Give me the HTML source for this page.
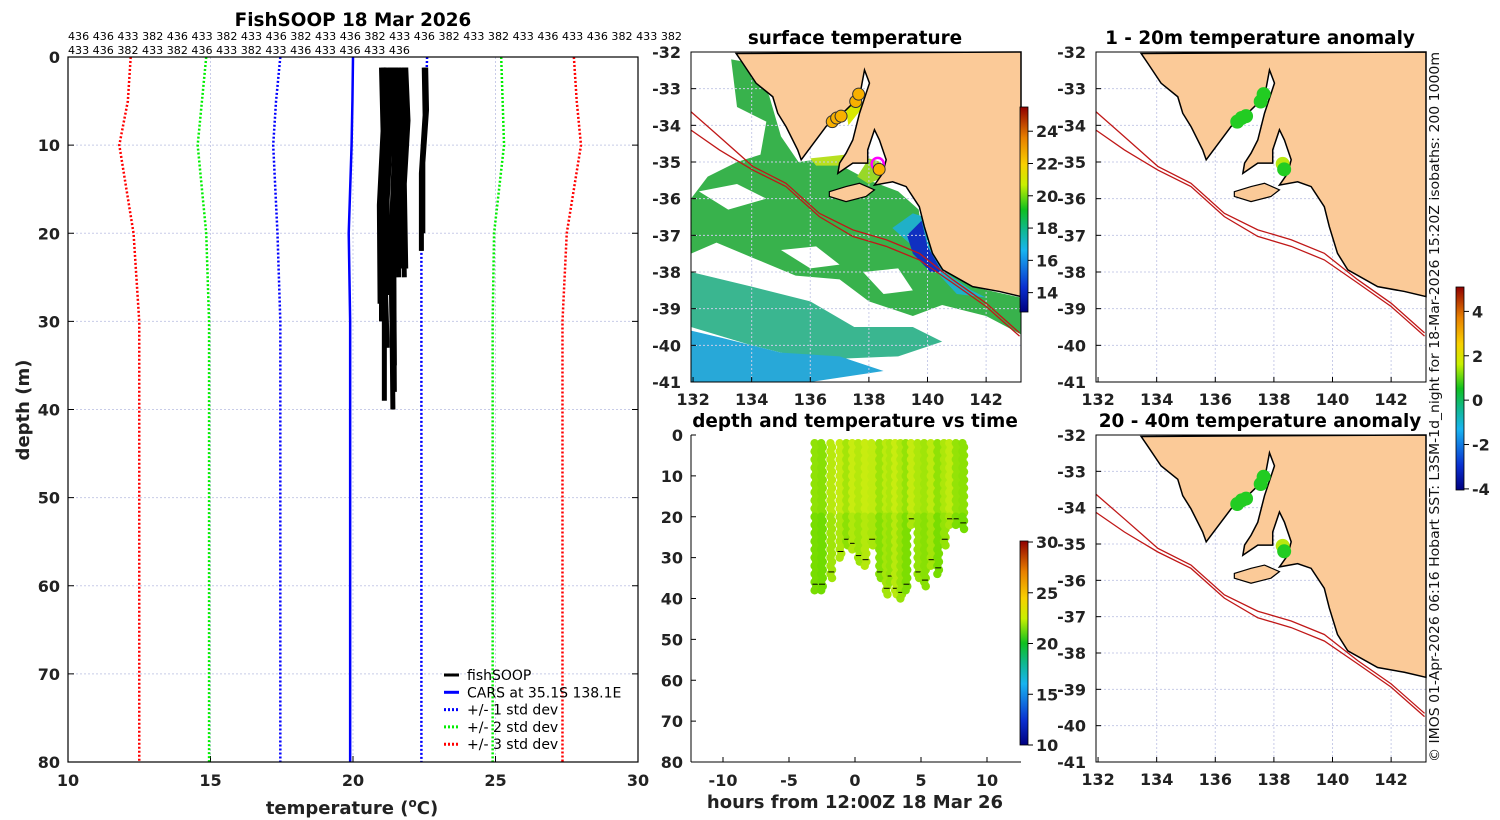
<!DOCTYPE html>
<html><head><meta charset="utf-8"><style>
html,body{margin:0;padding:0;background:#fff;}
svg{display:block;font-family:"DejaVu Sans","Liberation Sans",sans-serif;}
.tk{font-size:16px;font-weight:bold;fill:#222;}
.ttl{font-size:18.4px;font-weight:bold;fill:#000;}
.axt{font-size:18px;font-weight:bold;fill:#222;}
.lg{font-size:14px;fill:#000;}
</style></head><body>
<svg id="fig" width="1500" height="820" viewBox="0 0 1500 820" xmlns="http://www.w3.org/2000/svg">
<defs>
<linearGradient id="jet" x1="0" y1="1" x2="0" y2="0">
<stop offset="0" stop-color="#00007f"/><stop offset="0.12" stop-color="#0a2fd0"/><stop offset="0.3" stop-color="#18b4f0"/><stop offset="0.4" stop-color="#10b890"/><stop offset="0.5" stop-color="#10c020"/><stop offset="0.62" stop-color="#c8f000"/><stop offset="0.72" stop-color="#f8d000"/><stop offset="0.85" stop-color="#e88000"/><stop offset="1" stop-color="#900000"/>
</linearGradient>
</defs>
<g id="left"></g>
<g id="m1"></g>
<g id="m2"></g>
<g id="m3"></g>
<g id="tp"></g>
<text x="353" y="26" text-anchor="middle" class="ttl">FishSOOP 18 Mar 2026</text>
<text x="68" y="40" font-size="11" textLength="614" lengthAdjust="spacingAndGlyphs">436 436 433 382 436 433 382 433 436 382 433 436 382 433 436 382 433 382 433 436 433 436 382 433 382</text>
<text x="68" y="54" font-size="11" textLength="342" lengthAdjust="spacingAndGlyphs">433 436 382 433 382 436 433 382 433 436 433 436 433 436</text>
<text x="855" y="44" text-anchor="middle" class="ttl">surface temperature</text>
<text x="855" y="427" text-anchor="middle" class="ttl">depth and temperature vs time</text>
<text x="1260" y="44" text-anchor="middle" class="ttl">1 - 20m temperature anomaly</text>
<text x="1260" y="427" text-anchor="middle" class="ttl">20 - 40m temperature anomaly</text>
<text transform="translate(1439,762) rotate(-90)" font-size="13.5" textLength="710" lengthAdjust="spacingAndGlyphs" fill="#111">© IMOS 01-Apr-2026 06:16 Hobart SST: L3SM-1d_night for 18-Mar-2026 15:20Z isobaths: 200  1000m</text>
</svg>
<script>
const NS='http://www.w3.org/2000/svg';
// ---- profile chart data ----
const stdDepths=[0,5,10,20,30,80];
const carsMean=[20.0,19.98,19.95,19.85,19.9,19.9];
const plus1=[22.6,22.55,22.5,22.4,22.4,22.4];
const minus1=[17.45,17.3,17.2,17.35,17.45,17.45];
const plus2=[25.2,25.25,25.3,24.95,24.9,24.9];
const minus2=[14.85,14.7,14.55,14.85,14.95,14.95];
const plus3=[27.75,27.85,28.0,27.5,27.35,27.35];
const minus3=[12.2,12.1,11.8,12.3,12.5,12.5];
const fishTopT=[21.0,21.1,21.2,21.3,21.4,21.5,21.6,21.7,21.8,21.85,21.05,21.35,21.5,22.5,22.55];
const fishBotT=[20.95,21.0,21.1,21.2,21.4,21.45,21.6,21.7,21.8,21.85,21.2,21.4,21.45,22.4,22.45];
const fishMaxD=[28,30,39,27,40,35,25,24,25,24,33,36,38,22,20];
const tempTicks=[10,15,20,25,30];
const depthTicks=[0,10,20,30,40,50,60,70,80];
// ---- time plot data ----
const castHours=[-3.0,-2.5,-1.8,-1.1,-0.6,-0.15,0.3,0.8,1.3,1.9,2.4,2.7,3.1,3.5,3.9,4.3,4.8,5.3,5.8,6.3,6.8,7.2,7.7,8.2];
const castMaxDepth=[38,38,35,30,27,28,31,32,27,35,39,36,39,40,38,22,35,37,32,34,27,22,22,23];
const castTemp=[20.5,20.3,21.5,21.8,21.0,21.9,21.4,22.0,21.7,20.8,21.6,21.2,22.1,21.3,20.6,21.8,21.2,20.9,21.6,20.5,21.2,21.7,20.6,20.4];
const hourTicks=[-10,-5,0,5,10];
// ---- map data ----
const latTicks=[-32,-33,-34,-35,-36,-37,-38,-39,-40,-41];
const lonTicks=[132,134,136,138,140,142];
const coastLon=[133.47,133.7,134.15,134.72,134.89,135.17,135.57,135.69,136.54,137.22,137.68,137.85,138.02,137.68,137.45,137.22,137.0,136.94,137.45,137.96,137.96,138.19,138.36,138.59,138.47,138.19,138.81,139.27,139.72,139.89,140.17,140.52,141.54,142.45,143.19,143.19];
const coastLat=[-32.04,-32.31,-32.85,-33.22,-33.67,-34.03,-34.67,-34.94,-34.03,-33.58,-33.22,-32.49,-32.85,-33.67,-34.4,-34.76,-35.03,-35.31,-35.03,-35.03,-34.67,-34.12,-34.4,-34.94,-35.31,-35.63,-35.54,-35.67,-36.22,-36.76,-37.49,-37.94,-38.4,-38.53,-38.67,-32.0];
const kiLon=[136.65,137.22,137.68,138.19,137.9,137.22,136.65];
const kiLat=[-35.81,-35.67,-35.58,-35.76,-35.94,-36.08,-35.94];
const iso1Lon=[131.93,132.9,134.04,135.17,136.31,137.45,138.59,139.72,140.86,142.0,143.14];
const iso1Lat=[-33.63,-34.31,-35.12,-35.58,-36.4,-36.85,-37.12,-37.49,-38.21,-38.85,-39.66];
const iso2Lat=[-34.13,-34.67,-35.22,-35.67,-36.49,-37.03,-37.3,-37.67,-38.3,-38.94,-39.75];
const obsLon=[136.75,136.9,137.05,137.55,137.65,138.3,138.35];
const obsLat=[-33.9,-33.8,-33.75,-33.35,-33.15,-35.05,-35.2];
const obsAnom1=[0.2,0.3,0.2,0.4,0.3,1.6,0.5];
const obsAnom2=[0.3,0.3,0.2,0.3,0.3,1.8,0.4];
const sstTicks=[14,16,18,20,22,24];
const anomTicks=[4,2,0,-2,-4];
const ctTicks=[30,25,20,15,10];

function el(p,t,a){const e=document.createElementNS(NS,t);for(const k in a)e.setAttribute(k,a[k]);p.appendChild(e);return e;}
function txt(p,x,y,s,cls,anchor){const e=el(p,'text',{x:x,y:y,'class':cls||'tk','text-anchor':anchor||'middle'});e.textContent=s;return e;}
function jet(v,lo,hi){const f=Math.max(0,Math.min(1,(v-lo)/(hi-lo)));const st=[[0,[0,0,127]],[.12,[10,47,208]],[.3,[24,180,240]],[.4,[16,184,144]],[.5,[16,192,32]],[.62,[200,240,0]],[.72,[248,208,0]],[.85,[232,128,0]],[1,[144,0,0]]];for(let i=1;i<st.length;i++){if(f<=st[i][0]){const a=st[i-1],b=st[i],t=(f-a[0])/(b[0]-a[0]);const c=a[1].map((v,j)=>Math.round(v+(b[1][j]-v)*t));return 'rgb('+c.join(',')+')';}}return 'rgb(144,0,0)';}

// ===== LEFT PROFILE CHART =====
(function(){
const g=document.getElementById('left');
const X0=68,X1=638,Y0=57,Y1=762;
const xs=t=>X0+(t-10)/20*(X1-X0), ys=d=>Y0+d/80*(Y1-Y0);
el(g,'rect',{x:X0,y:Y0,width:X1-X0,height:Y1-Y0,fill:'#fff'});
tempTicks.forEach(t=>{if(t>10&&t<30){const l=el(g,'line',{x1:xs(t),x2:xs(t),y1:Y0,y2:Y1,stroke:'#c8cce8','stroke-dasharray':'2,2'});}
 const lb=txt(g,xs(t),786,t);
 el(g,'line',{x1:xs(t),x2:xs(t),y1:Y1,y2:Y1-6,stroke:'#000'});});
depthTicks.forEach(d=>{if(d>0&&d<80){const l=el(g,'line',{x1:X0,x2:X1,y1:ys(d),y2:ys(d),stroke:'#c8cce8','stroke-dasharray':'2,2'});}
 const lb=txt(g,60,ys(d)+6,d,'tk','end');
 el(g,'line',{x1:X0,x2:X0+6,y1:ys(d),y2:ys(d),stroke:'#000'});el(g,'line',{x1:X1,x2:X1-6,y1:ys(d),y2:ys(d),stroke:'#000'});});
const series=[[minus3,'#f00',1],[plus3,'#f00',1],[minus2,'#0e0',1],[plus2,'#0e0',1],[minus1,'#00f',1],[plus1,'#00f',1],[carsMean,'#00f',0]];
series.forEach((s,i)=>{const pts=s[0].map((t,j)=>xs(t)+','+ys(stdDepths[j])).join(' ');
 const pl=el(g,'polyline',{points:pts,fill:'none',stroke:s[1],'stroke-width':2.5,'stroke-dasharray':s[2]?'2,2':'none'});
 });
fishTopT.forEach((t,i)=>{const m=(t+fishBotT[i])/2;
 const pl=el(g,'polyline',{points:xs(t)+','+ys(1.2)+' '+xs(m+0.08)+','+ys(fishMaxD[i]*0.3)+' '+xs(m-0.05)+','+ys(fishMaxD[i]*0.6)+' '+xs(fishBotT[i])+','+ys(fishMaxD[i]),fill:'none',stroke:'#000','stroke-width':5,'stroke-linejoin':'round'});
 });
el(g,'rect',{x:X0,y:Y0,width:X1-X0,height:Y1-Y0,fill:'none',stroke:'#000','stroke-width':1.2});
const xl=el(g,'text',{x:352,y:814,'class':'axt','text-anchor':'middle'});xl.innerHTML='temperature (<tspan dy="-7" font-size="12">o</tspan><tspan dy="7">C)</tspan>';

const yl=el(g,'text',{transform:'translate(29,410) rotate(-90)','class':'axt','text-anchor':'middle'});yl.textContent='depth (m)';

const items=[['fishSOOP','#000','none'],['CARS at 35.1S 138.1E','#00f','none'],['+/- 1 std dev','#00f','2,2'],['+/- 2 std dev','#0e0','2,2'],['+/- 3 std dev','#f00','2,2']];
items.forEach((it,i)=>{const y=675+i*17.3;const lg=el(g,'g',{});
 el(lg,'line',{x1:444,x2:459,y1:y,y2:y,stroke:it[1],'stroke-width':3,'stroke-dasharray':it[2]});txt(lg,467,y+5,it[0],'lg','start');});
})();

function anomColor(v){return v<1?'#22cc22':'#b8e810';}

// ===== MAPS =====
function drawMap(id,box,kind){
const g=document.getElementById(id);
const L0=131.93,L1=143.19,A0=-32,A1=-41;
const xs=l=>box[0]+(l-L0)/(L1-L0)*(box[1]-box[0]), ys=a=>box[2]+(a-A0)/(A1-A0)*(box[3]-box[2]);
const P=(lo,la)=>lo.map((v,i)=>xs(v)+','+ys(la[i])).join(' ');
el(g,'rect',{x:box[0],y:box[2],width:box[1]-box[0],height:box[3]-box[2],fill:'#fff'});
if(kind==='sst'){
 const patches=[
  [[133.3,134.0,134.6,135.0,135.6,136.5,137.3,138.0,139.0,139.7,139.8,140.4,141.5,143.19,143.19,142,140.5,139.5,138,137,135.5,134,132.8,131.93,131.93,132.5,133.5,134.3,134.5,133.5],[-32.2,-32.3,-33.2,-34.3,-35.0,-34.9,-35.2,-35.5,-35.8,-36.3,-36.9,-37.8,-38.4,-38.7,-39.7,-39.2,-38.9,-39.2,-38.8,-38.2,-38.1,-37.6,-37.2,-37.5,-36.0,-35.4,-35.0,-34.8,-33.9,-33.5],'#38b24c'],
  [[131.93,134,136,137.5,139.5,140.5,139,136,134,131.93],[-38.0,-38.4,-38.8,-39.5,-39.5,-39.9,-40.3,-40.4,-40.0,-39.5],'#3ab690'],
  [[131.93,133,135,137,138.5,136,131.93],[-39.6,-39.8,-40.2,-40.3,-40.7,-41,-41],'#28a8d8'],
  [[139.5,139.9,140.6,141.5,142,141,139.5,138.8],[-36.4,-36.5,-38.0,-38.5,-38.7,-38.6,-37.3,-36.8],'#20b0c8'],
  [[139.3,139.8,140.0,140.5,140.1,139.5],[-37.0,-36.6,-37.3,-38.0,-38.0,-37.5],'#1030c0'],
  [[136.0,137.2,137.0,136.2],[-34.9,-34.8,-35.1,-35.1],'#b8e020'],
  [[138.0,138.4,138.5,138.0,137.6],[-34.9,-35.0,-35.4,-35.6,-35.4],'#98d828'],
  [[137.2,137.6,137.9,137.3],[-33.5,-33.3,-33.4,-34.0],'#d8e800'],
  [[132.2,133.5,134.5,133.2],[-35.8,-35.6,-36.0,-36.3],'#ffffff'],
  [[135.0,136.2,137.0,136.0],[-37.4,-37.3,-37.8,-37.9],'#ffffff'],
  [[137.8,139.0,139.5,138.5],[-38.0,-37.9,-38.5,-38.6],'#ffffff']];
 patches.forEach(p=>{const e=el(g,'polygon',{points:P(p[0],p[1]),fill:p[2]});});
}
lonTicks.forEach(l=>{if(l>132){el(g,'line',{x1:xs(l),x2:xs(l),y1:box[2],y2:box[3],stroke:'#c8cce8','stroke-dasharray':'2,2'});}
 const t=txt(g,xs(l),box[3]+23,l);
 el(g,'line',{x1:xs(l),x2:xs(l),y1:box[3],y2:box[3]-5,stroke:'#000'});});
latTicks.forEach(a=>{if(a<-32&&a>-41)el(g,'line',{x1:box[0],x2:box[1],y1:ys(a),y2:ys(a),stroke:'#c8cce8','stroke-dasharray':'2,2'});
 const t=txt(g,box[0]-10,ys(a)+6,a,'tk','end');
 el(g,'line',{x1:box[0],x2:box[0]+5,y1:ys(a),y2:ys(a),stroke:'#000'});});
const land=el(g,'polygon',{points:P(coastLon,coastLat),fill:'#fbca98',stroke:'#000','stroke-width':1.5});

const ki=el(g,'polygon',{points:P(kiLon,kiLat),fill:'#fbca98',stroke:'#000','stroke-width':1.2});

[iso1Lat,iso2Lat].forEach(la=>{const e=el(g,'polyline',{points:P(iso1Lon,la),fill:'none',stroke:'#c01818','stroke-width':1.3});});
obsLon.forEach((lo,i)=>{let e;
 if(kind==='sst'){e=el(g,'circle',{cx:xs(lo),cy:ys(obsLat[i]),r:6,fill:i===5?'none':'#f8b000',stroke:i===5?'#f0f':'#333','stroke-width':i===5?2.5:1});}
 else{const v=kind==='a1'?obsAnom1[i]:obsAnom2[i];e=el(g,'circle',{cx:xs(lo),cy:ys(obsLat[i]),r:7,fill:anomColor(v)});}
 });
el(g,'rect',{x:box[0],y:box[2],width:box[1]-box[0],height:box[3]-box[2],fill:'none',stroke:'#000','stroke-width':1});
}
drawMap('m1',[691,1021,52,382],'sst');
drawMap('m2',[1096,1426,52,382],'a1');
drawMap('m3',[1096,1426,435,762],'a2');

// colorbars
function cbar(x,y0,y1,lo,hi,ticks,name){const g=document.getElementById('fig');const cb=el(g,'g',{});
 el(cb,'rect',{x:x,y:y0,width:8,height:y1-y0,fill:'url(#jet)',stroke:'#000','stroke-width':0.8});
 ticks.forEach(t=>{const y=y1-(t-lo)/(hi-lo)*(y1-y0);el(cb,'line',{x1:x+8,x2:x+13,y1:y,y2:y,stroke:'#000'});txt(cb,x+16,y+6,t,'tk','start');});}
cbar(1020,107,312,12.8,25.5,sstTicks,'sst-colorbar');
cbar(1456,287,490,-4.05,5.1,anomTicks,'anomaly-colorbar');
cbar(1020,541,745,10,30.1,ctTicks,'time-temp-colorbar');

function castColor(t){const f=Math.max(0,Math.min(1,(t-20)/2.2));const a=[112,220,0],b=[200,236,16];return 'rgb('+a.map((v,j)=>Math.round(v+(b[j]-v)*f)).join(',')+')';}

// ===== TIME PLOT =====
(function(){
const g=document.getElementById('tp');
const X0=691,X1=1021,Y0=435,Y1=762;
const xs=h=>855+h*13.2, ys=d=>Y0+d/80*(Y1-Y0);
depthTicks.forEach(d=>{const t=txt(g,683,ys(d)+6,d,'tk','end');el(g,'line',{x1:X0,x2:X0+5,y1:ys(d),y2:ys(d),stroke:'#000'});});
hourTicks.forEach(h=>{const t=txt(g,xs(h),786,h);el(g,'line',{x1:xs(h),x2:xs(h),y1:Y1,y2:Y1-5,stroke:'#000'});});
castHours.forEach((h,i)=>{const cg=el(g,'g',{});
 for(let d=2;d<=castMaxDepth[i];d+=1){el(cg,'circle',{cx:xs(h)+(d%2?0.8:-0.8),cy:ys(d),r:4.2,fill:castColor(castTemp[i]+(d<20?0.3:-0.3))});}
 el(cg,'line',{x1:xs(h)-3,x2:xs(h)+3,y1:ys(castMaxDepth[i]-1.5),y2:ys(castMaxDepth[i]-1.5),stroke:'#000','stroke-width':1});});
el(g,'line',{x1:X0,x2:X0,y1:Y0,y2:Y1,stroke:'#000'});el(g,'line',{x1:X0,x2:X1,y1:Y1,y2:Y1,stroke:'#000'});
const xl=txt(g,855,808,'hours from 12:00Z 18 Mar 26','axt');
})();
</script>
</body></html>
